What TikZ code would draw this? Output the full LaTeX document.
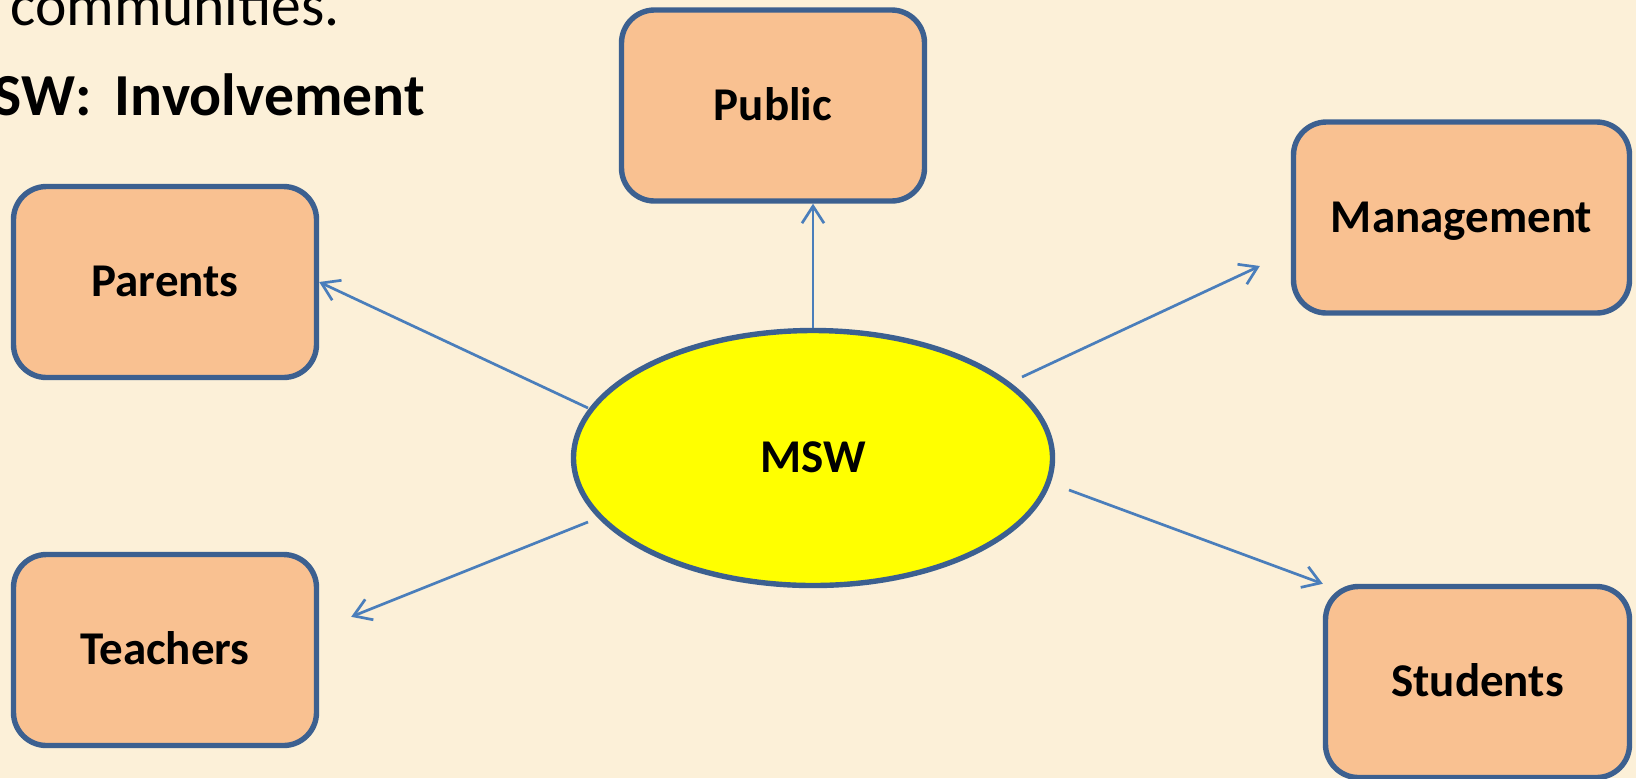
\documentclass[tikz,border=0pt]{standalone}
\usepackage{fontspec}
\setmainfont{Carlito}
\usetikzlibrary{shapes.geometric,arrows.meta,calc}
\definecolor{bg}{HTML}{FCF0D8}
\definecolor{peach}{HTML}{F9C191}
\definecolor{edge}{HTML}{3C6090}
\definecolor{arrowblue}{HTML}{4A7EBB}
\definecolor{mswyellow}{HTML}{FFFF00}
\begin{document}
\begin{tikzpicture}[x=0.5pt,y=-0.5pt,
  box/.style={draw=edge, fill=peach, line width=2.7pt, rounded corners=16.5pt,
    minimum width=151.5pt, minimum height=95.5pt, inner sep=0pt,
    text height=14.9pt, text depth=0pt,
    font=\fontsize{23.5pt}{28pt}\selectfont\bfseries},
  hub/.style={ellipse, draw=edge, fill=mswyellow, line width=2.7pt,
    minimum width=239.5pt, minimum height=127.5pt, inner sep=0pt,
    text height=14.9pt, text depth=0pt,
    font=\fontsize{23.5pt}{28pt}\selectfont\bfseries},
  conn/.style={draw=arrowblue, line width=1.35pt,
    -{Straight Barb[length=8.5pt,width=11pt]}},
  heading/.style={anchor=base east, inner sep=0pt, text=black}]
  \fill[bg] (0,0) rectangle (1636,778);
  \clip (0,0) rectangle (1636,778);

  \node[heading, font=\fontsize{29.8pt}{36pt}\selectfont] (line1) at (340,25) {communities.};
  \node[heading, font=\fontsize{29.8pt}{36pt}\selectfont\bfseries] (line2) at (425,115) {SW:\kern5pt\ Involvement};

  \node[hub] (msw) at (813,458) {MSW};
  \node[box] (public) at (773,105.5) {Public};
  \node[box] (parents) at (165,282) {Parents};
  \node[box] (teachers) at (165,650) {Teachers};
  \node[box, minimum width=168pt] (mgmt) at (1461.5,217.5) {Management};
  \node[box, minimum width=152pt] (students) at (1477.5,682) {Students};

  \draw[conn] ($(msw.center)+(-225,-50)$) -- (parents.east);
  \draw[conn] (msw.north) -- (msw.north |- public.south);
  \draw[conn] ($(msw.center)+(209,-81)$) -- ($(mgmt.west)+(-31,48.5)$);
  \draw[conn] ($(msw.center)+(256,32)$) -- (students.north west);
  \draw[conn] ($(msw.center)+(-225,64)$) -- ($(teachers.north east)+(32,65)$);
\end{tikzpicture}
\end{document}
